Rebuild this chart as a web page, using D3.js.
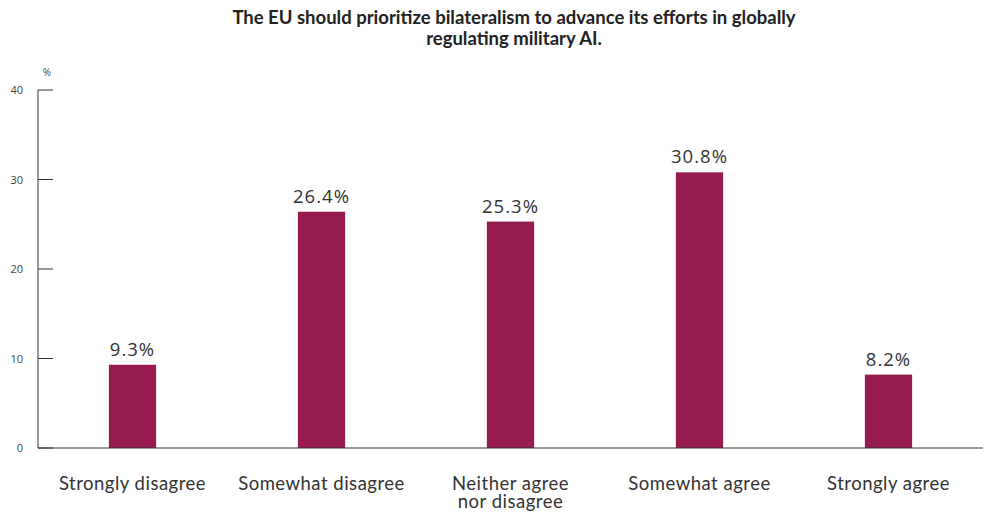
<!DOCTYPE html>
<html>
<head>
<meta charset="utf-8">
<script src="https://cdn.jsdelivr.net/npm/d3@7"></script>
<style>
  body { margin: 0; background: #fff; }
  svg { display: block; }
  .title { font-family: Lato, "Open Sans", sans-serif; font-weight: 700; font-size: 18.5px; fill: #222; }
  .tick-label { font-family: "Open Sans", sans-serif; font-size: 11px; fill: #444; }
  .value-label { font-family: "Open Sans", sans-serif; font-size: 18.5px; letter-spacing: 1px; fill: #333; }
  .cat-label { font-family: Lato, "Open Sans", sans-serif; font-size: 18.5px; letter-spacing: 0.5px; fill: #333; }
</style>
</head>
<body>
<div id="chart"></div>
<script>
// chart data
const categories = ["Strongly disagree", "Somewhat disagree", "Neither agree\nnor disagree", "Somewhat agree", "Strongly agree"];
const values = [9.3, 26.4, 25.3, 30.8, 8.2];
const yTicks = [0, 10, 20, 30, 40];
const titleLines = [
    "The EU should prioritize bilateralism to advance its efforts in globally",
    "regulating military AI."
];

const config = {
    width: 984,
    height: 519,
    left: 38,
    right: 983,
    top: 90,
    bottom: 448,
    barColor: "#981b4f",
    axisColor: "#333"
};

const svg = d3.select("#chart")
    .append("svg")
    .attr("width", config.width)
    .attr("height", config.height);

const x = d3.scaleBand()
    .domain(categories)
    .range([config.left, config.right])
    .paddingInner(0.75)
    .paddingOuter(0.375);

const y = d3.scaleLinear()
    .domain([0, 40])
    .range([config.bottom, config.top]);

// title
svg.append("g")
    .selectAll("text")
    .data(titleLines)
    .join("text")
    .attr("class", "title")
    .attr("x", 514)
    .attr("y", (d, i) => 24 + i * 21)
    .attr("text-anchor", "middle")
    .text(d => d);

// y axis line + ticks
svg.append("line")
    .attr("x1", config.left).attr("x2", config.left)
    .attr("y1", y(40)).attr("y2", y(0))
    .attr("stroke", config.axisColor)
    .attr("stroke-width", 1);

svg.append("g")
    .selectAll("line")
    .data(yTicks)
    .join("line")
    .attr("x1", config.left)
    .attr("x2", config.left + 15)
    .attr("y1", d => y(d))
    .attr("y2", d => y(d))
    .attr("stroke", config.axisColor)
    .attr("stroke-width", 1);

svg.append("g")
    .selectAll("text")
    .data(yTicks)
    .join("text")
    .attr("class", "tick-label")
    .attr("x", 23)
    .attr("y", d => y(d) + 4)
    .attr("text-anchor", "end")
    .text(d => d);

svg.append("text")
    .attr("class", "tick-label")
    .attr("x", 47)
    .attr("y", 76)
    .attr("text-anchor", "middle")
    .style("font-size", "10px")
    .text("%");

// bars
svg.append("g")
    .selectAll("rect")
    .data(values)
    .join("rect")
    .attr("x", (d, i) => x(categories[i]))
    .attr("y", d => y(d))
    .attr("width", x.bandwidth())
    .attr("height", d => y(0) - y(d))
    .attr("fill", config.barColor);

// baseline
svg.append("line")
    .attr("x1", config.left).attr("x2", config.right)
    .attr("y1", y(0)).attr("y2", y(0))
    .attr("stroke", config.axisColor)
    .attr("stroke-width", 1.2);

// value labels
svg.append("g")
    .selectAll("text")
    .data(values)
    .join("text")
    .attr("class", "value-label")
    .attr("x", (d, i) => x(categories[i]) + x.bandwidth() / 2)
    .attr("y", d => y(d) - 9)
    .attr("text-anchor", "middle")
    .text(d => d.toFixed(1) + "%");

// category labels
const cat = svg.append("g")
    .selectAll("text")
    .data(categories)
    .join("text")
    .attr("class", "cat-label")
    .attr("x", d => x(d) + x.bandwidth() / 2)
    .attr("y", 490)
    .attr("text-anchor", "middle");

cat.selectAll("tspan")
    .data(d => d.split("\n").map(t => ({ t, cx: x(d) + x.bandwidth() / 2 })))
    .join("tspan")
    .attr("x", d => d.cx)
    .attr("dy", (d, i) => i === 0 ? 0 : 18)
    .text(d => d.t);
</script>
</body>
</html>
